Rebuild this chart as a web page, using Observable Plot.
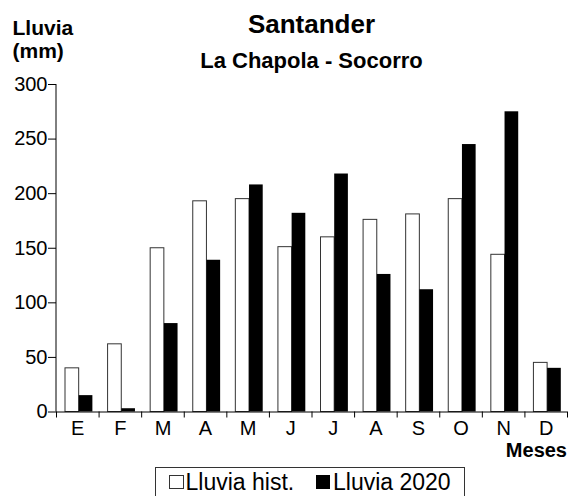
<!DOCTYPE html>
<html><head><meta charset="utf-8">
<script src="https://cdn.jsdelivr.net/npm/d3@7"></script>
<script src="https://cdn.jsdelivr.net/npm/@observablehq/plot@0.6"></script>
<style>
body{margin:0;background:#fff;}
#wrap{position:relative;width:570px;height:496px;overflow:hidden;font-family:"Liberation Sans",Arial,sans-serif;color:#000;background:#fff;}
#wrap svg{position:absolute;left:0;top:0;}
.t{position:absolute;white-space:nowrap;line-height:1;}
</style></head><body>
<div id="wrap"></div>
<script>
const months = ["E","F","M","A","M","J","J","A","S","O","N","D"];
const lluviaHist = [40, 62, 150, 193, 195, 151, 160, 176, 181, 195, 144, 45];
const lluvia2020 = [15, 3, 81, 139, 208, 182, 218, 126, 112, 245, 275, 40];
const yTicks = [0, 50, 100, 150, 200, 250, 300];
const seriesNames = ["Lluvia hist.", "Lluvia 2020"];
const titleText = "Santander";
const subtitleText = "La Chapola - Socorro";
const yLabelLines = ["Lluvia", "(mm)"];
const xLabel = "Meses";

const rows = months.map((m, i) => ({i, m, hist: lluviaHist[i], y2020: lluvia2020[i]}));

const chart = Plot.plot({
  width: 570, height: 496,
  marginTop: 84, marginBottom: 84.5, marginLeft: 56, marginRight: 3,
  style: {fontFamily: "Liberation Sans, Arial, sans-serif", fontSize: "20px", background: "transparent", overflow: "visible"},
  x: {type: "linear", domain: [0, 12], axis: null},
  y: {domain: [0, 300], axis: null},
  marks: [
    Plot.rect(rows, {x1: "i", x2: d => d.i + 1, y1: 0, y2: "hist", fill: "white", stroke: "#333", strokeWidth: 1, insetLeft: 9, insetRight: 19.9}),
    Plot.rect(rows, {x1: "i", x2: d => d.i + 1, y1: 0, y2: "y2020", fill: "black", insetLeft: 22.7, insetRight: 6.2}),
    Plot.ruleY([0], {stroke: "#000"}),
    Plot.ruleX([0], {stroke: "#000", dx: -0.5}),
    Plot.axisY({ticks: yTicks, tickSize: 8, tickPadding: 1, label: null, fontSize: 20}),
    Plot.axisX({ticks: d3.range(13), tickSize: 6, tickFormat: () => "", label: null}),
    Plot.axisX({ticks: d3.range(12).map(i => i + 0.5), tickSize: 0, tickPadding: 9, tickFormat: d => months[Math.floor(d)], label: null, fontSize: 20})
  ]
});

const wrap = document.getElementById("wrap");
wrap.appendChild(chart);

function addText(txt, css) {
  const d = document.createElement("div");
  d.className = "t";
  d.textContent = txt;
  Object.assign(d.style, css);
  wrap.appendChild(d);
  return d;
}
addText(titleText, {left: "0px", width: "623px", textAlign: "center", top: "11px", fontSize: "26px", fontWeight: "bold"});
addText(subtitleText, {left: "0px", width: "623px", textAlign: "center", top: "49.5px", fontSize: "22px", fontWeight: "bold"});
addText(yLabelLines[0], {left: "12.5px", top: "17.2px", fontSize: "21px", fontWeight: "bold"});
addText(yLabelLines[1], {left: "12.5px", top: "40.2px", fontSize: "21px", fontWeight: "bold"});
addText(xLabel, {right: "3px", top: "440px", fontSize: "20px", fontWeight: "bold"});

const box = document.createElement("div");
Object.assign(box.style, {position: "absolute", left: "155px", top: "467px", width: "308px", height: "40px", border: "1.5px solid #333"});
wrap.appendChild(box);
const sq1 = document.createElement("div");
Object.assign(sq1.style, {position: "absolute", left: "169px", top: "475px", width: "13px", height: "12px", border: "1px solid #333", background: "#fff"});
wrap.appendChild(sq1);
const sq2 = document.createElement("div");
Object.assign(sq2.style, {position: "absolute", left: "316px", top: "475px", width: "14px", height: "14px", background: "#000"});
wrap.appendChild(sq2);
addText(seriesNames[0], {left: "185.5px", top: "470.5px", fontSize: "23px"});
addText(seriesNames[1], {left: "333px", top: "470.5px", fontSize: "23px"});
</script>
</body></html>
